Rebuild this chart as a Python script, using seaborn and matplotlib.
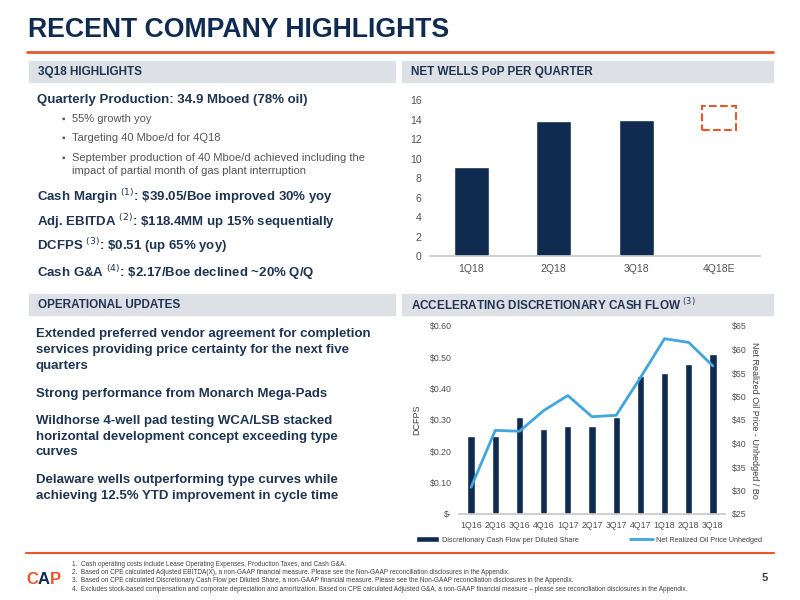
import numpy as np
import pandas as pd
import seaborn as sns
import matplotlib.pyplot as plt
from matplotlib.patches import Rectangle

# ---- data ----
wells_q = ['1Q18', '2Q18', '3Q18', '4Q18E']
wells_pop = [9.1, 13.8, 13.9, 0]

cf_q = ['1Q16', '2Q16', '3Q16', '4Q16', '1Q17', '2Q17', '3Q17', '4Q17', '1Q18', '2Q18', '3Q18']
dcfps = [0.25, 0.25, 0.31, 0.27, 0.28, 0.28, 0.31, 0.44, 0.45, 0.48, 0.51]
oil_price = [30.7, 42.8, 42.6, 47.0, 50.2, 45.7, 46.0, 54.0, 62.3, 61.5, 56.5]

NAVY = '#0f2b50'
LBLUE = '#41a6dd'
ORANGE = '#e8572a'
GREYBAR = '#dde1e6'
TXT = '#1f3552'

sns.set_theme(style='white')
plt.rcParams['font.family'] = ['Liberation Sans', 'DejaVu Sans']

fig = plt.figure(figsize=(8, 6), dpi=100)

def fy(y):
    return 1 - y / 600

def fx(x):
    return x / 800

# title
fig.text(fx(28), fy(30), 'RECENT COMPANY HIGHLIGHTS', fontsize=19.2, fontweight='bold',
         color=NAVY, va='center')
fig.add_artist(plt.Line2D([fx(27), fx(773)], [fy(52), fy(52)], color=ORANGE, lw=2))

# section header bars
for x0, x1, y0, label in [(29, 395, 61, '3Q18 HIGHLIGHTS'),
                          (402, 773, 61, 'NET WELLS PoP PER QUARTER'),
                          (29, 395, 294, 'OPERATIONAL UPDATES'),
                          (402, 773, 294, 'ACCELERATING DISCRETIONARY CASH FLOW $^{(3)}$')]:
    fig.add_artist(Rectangle((fx(x0), fy(y0 + 21)), fx(x1 - x0), 21 / 600,
                             color=GREYBAR, transform=fig.transFigure, zorder=0))
    fig.text(fx(x0 + 9), fy(y0 + 11), label, fontsize=8.5, fontweight='bold',
             color=TXT, va='center')

# left column, highlights
fig.text(fx(37), fy(100), 'Quarterly Production: 34.9 Mboed (78% oil)', fontsize=9.5,
         fontweight='bold', color=TXT, va='center')
bullets = [(119, '55% growth yoy'), (138, 'Targeting 40 Mboe/d for 4Q18'),
           (158, 'September production of 40 Mboe/d achieved including the'),
           (171, 'impact of partial month of gas plant interruption')]
for y, t in bullets:
    if y != 171:
        fig.text(fx(61), fy(y), '\u25aa', fontsize=7, color='#555555', va='center')
    fig.text(fx(72), fy(y), t, fontsize=8, color='#555555', va='center')
highlights = [(197, 'Cash Margin $^{(1)}$: \\$39.05/Boe improved 30% yoy'),
              (222, 'Adj. EBITDA $^{(2)}$: \\$118.4MM up 15% sequentially'),
              (246, 'DCFPS $^{(3)}$: \\$0.51 (up 65% yoy)'),
              (273, 'Cash G&A $^{(4)}$: \\$2.17/Boe declined ~20% Q/Q')]
for y, t in highlights:
    fig.text(fx(37), fy(y), t, fontsize=9.5, fontweight='bold', color=TXT, va='center')

ops = [(334, 'Extended preferred vendor agreement for completion'),
       (350, 'services providing price certainty for the next five'),
       (366, 'quarters'),
       (394, 'Strong performance from Monarch Mega-Pads'),
       (421, 'Wildhorse 4-well pad testing WCA/LSB stacked'),
       (437, 'horizontal development concept exceeding type'),
       (452, 'curves'),
       (480, 'Delaware wells outperforming type curves while'),
       (496, 'achieving 12.5% YTD improvement in cycle time')]
for y, t in ops:
    fig.text(fx(36), fy(y), t, fontsize=9.5, fontweight='bold', color=TXT, va='center')

# ---- top chart: net wells ----
ax1 = fig.add_axes([fx(430), fy(256), fx(330), (256 - 100) / 600])
df_w = pd.DataFrame({'q': wells_q, 'v': wells_pop})
sns.barplot(data=df_w, x='q', y='v', color=NAVY, width=0.42, saturation=1, ax=ax1)
ax1.set_ylim(0, 16)
ax1.set_yticks(range(0, 17, 2))
ax1.set_xlim(-0.5, 3.5)
ax1.set_xlabel('')
ax1.set_ylabel('')
ax1.tick_params(axis='both', labelsize=7.5, colors='#505050', length=0, pad=6)
for s in ['top', 'right', 'left']:
    ax1.spines[s].set_visible(False)
ax1.spines['bottom'].set_color('#c8c8c8')
ax1.add_patch(Rectangle((2.8, 12.9), 0.41, 2.5, fill=False, ls='--', lw=1.5,
                        edgecolor=ORANGE, clip_on=False))

# ---- bottom chart: cash flow ----
ax2 = fig.add_axes([fx(459), fy(514), fx(266), (514 - 326) / 600])
df_c = pd.DataFrame({'q': cf_q, 'dcfps': dcfps, 'oil': oil_price})
sns.barplot(data=df_c, x='q', y='dcfps', color=NAVY, width=0.3, saturation=1, ax=ax2,
            label='Discretionary Cash Flow per Diluted Share')
ax2.set_ylim(0, 0.6)
ax2.set_yticks(np.arange(0, 0.61, 0.1))
ax2.set_yticklabels(['$-'] + [f'${v:.2f}' for v in np.arange(0.1, 0.61, 0.1)])
ax2.set_xlim(-0.5, 10.5)
ax2.set_xlabel('')
ax2.set_ylabel('DCFPS', fontsize=6.5, color='#404040', labelpad=6)
ax2.tick_params(axis='both', labelsize=6.3, colors='#505050', length=0, pad=5)
for s in ['top', 'right', 'left']:
    ax2.spines[s].set_visible(False)
ax2.spines['bottom'].set_color('#c8c8c8')

ax3 = ax2.twinx()
sns.lineplot(x=np.arange(len(cf_q)), y=oil_price, color=LBLUE, lw=2, ax=ax3,
             label='Net Realized Oil Price Unhedged')
ax3.set_ylim(25, 65)
ax3.set_yticks(range(25, 66, 5))
ax3.set_yticklabels([f'${v}' for v in range(25, 66, 5)])
ax3.set_ylabel('Net Realized Oil Price - Unhedged / Bo', fontsize=6.5, color='#404040',
               rotation=270, labelpad=9)
ax3.tick_params(axis='y', labelsize=6.3, colors='#505050', length=0, pad=5)
for s in ['top', 'right', 'left', 'bottom']:
    ax3.spines[s].set_visible(False)
ax3.get_legend().remove()
h1, l1 = ax2.get_legend_handles_labels()
h2, l2 = ax3.get_legend_handles_labels()
if ax2.get_legend():
    ax2.get_legend().remove()
fig.legend(h1 + h2, l1 + l2, loc='center', bbox_to_anchor=(fx(589), fy(540)), ncol=2,
           frameon=False, fontsize=5.2, handlelength=3.2, handletextpad=0.5,
           columnspacing=7, labelcolor='#404040')

# ---- footer ----
fig.add_artist(plt.Line2D([fx(26), fx(774)], [fy(553), fy(553)], color=ORANGE, lw=1.5))
notes = ['1.  Cash operating costs include Lease Operating Expenses, Production Taxes, and Cash G&A.',
         '2.  Based on CPE calculated Adjusted EBITDA(X), a non-GAAP financial measure. Please see the Non-GAAP reconciliation disclosures in the Appendix.',
         '3.  Based on CPE calculated Discretionary Cash Flow per Diluted Share, a non-GAAP financial measure. Please see the Non-GAAP reconciliation disclosures in the Appendix.',
         '4.  Excludes stock-based compensation and corporate depreciation and amortization. Based on CPE calculated Adjusted G&A, a non-GAAP financial measure \u2013 please see reconciliation disclosures in the Appendix.']
for i, t in enumerate(notes):
    fig.text(fx(72), fy(564 + i * 8.5), t, fontsize=4.7, color='#404040', va='center')
fig.text(fx(762), fy(578), '5', fontsize=8, fontweight='bold', color='#404040', va='center')
for x, ch, c in [(26, 'C', ORANGE), (38, 'A', NAVY), (50, 'P', ORANGE)]:
    fig.text(fx(x), fy(580), ch, fontsize=12, fontweight='bold', color=c, va='center')

fig.savefig('out.png', dpi=100)
